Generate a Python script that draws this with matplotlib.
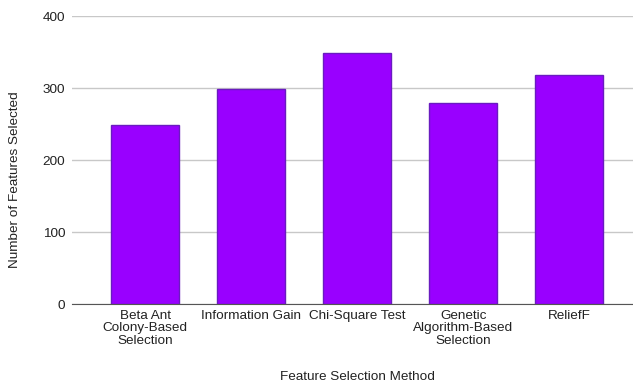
import matplotlib as mpl
mpl.use('Agg')
import matplotlib.pyplot as plt

metodos = ["Beta Ant\nColony-Based\nSelection", "Information Gain", "Chi-Square Test",
           "Genetic\nAlgorithm-Based\nSelection", "ReliefF"]
qtd_features = [248, 298, 348, 279, 318]
yticks = [0, 100, 200, 300, 400]

plt.rcParams['font.family'] = ['Liberation Sans', 'DejaVu Sans']
tam = 9.7
cor_txt = '#222222'

fig = plt.figure(figsize=(6.33, 3.86), dpi=100)
ax = fig.add_axes([0.1137, 0.2124, 0.8863, 0.7461])

x = range(len(metodos))
ax.bar(x, qtd_features, width=0.64, color='#9900ff', edgecolor='#6a1bc0', linewidth=1, zorder=3)

ax.set_ylim(0, 400)
ax.set_xlim(-0.69, 4.6)
ax.set_yticks(yticks)
ax.set_xticks(list(x))
ax.set_xticklabels(metodos, fontsize=tam, color=cor_txt, linespacing=1.1)
ax.tick_params(axis='y', labelsize=tam, length=0, pad=5, colors=cor_txt)
ax.tick_params(axis='x', length=0, pad=4)

ax.grid(axis='y', color='#c8c8c8', linewidth=1, zorder=0)
for lado in ['top', 'right', 'left']:
    ax.spines[lado].set_visible(False)
ax.spines['bottom'].set_color('#555555')
ax.spines['bottom'].set_zorder(4)

# titulos dos eixos em coordenadas da figura
fig.text(15 / 633, 1 - 180 / 386, "Number of Features Selected", rotation=90,
         ha='center', va='center', fontsize=tam, color=cor_txt)
fig.text(357 / 633, 1 - 377 / 386, "Feature Selection Method",
         ha='center', va='center', fontsize=tam, color=cor_txt)

fig.savefig('out.png')
